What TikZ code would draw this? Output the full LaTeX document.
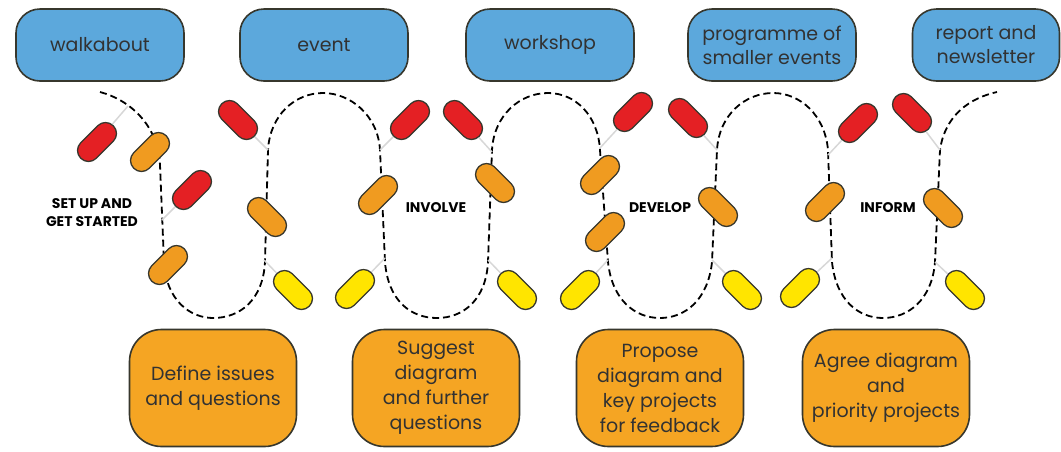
\documentclass[tikz,border=0pt]{standalone}
\usepackage{fontspec}
\setmainfont{Poppins}
\usepackage{xcolor}
\usepackage{tikz}
\usetikzlibrary{shapes,arrows}

\definecolor{stageblue}{RGB}{92,168,220}
\definecolor{taskorange}{RGB}{245,165,35}
\definecolor{pillred}{RGB}{228,32,36}
\definecolor{pillorange}{RGB}{240,155,32}
\definecolor{pillyellow}{RGB}{255,229,0}
\definecolor{rim}{RGB}{55,55,45}
\definecolor{ink}{RGB}{50,50,50}
\definecolor{stalk}{RGB}{215,215,215}

\tikzset{
	stage/.style={draw=rim,line width=1.6pt,fill=stageblue,rounded corners=24pt,
		minimum width=168pt,minimum height=72pt,inner sep=2pt,align=center,text=ink,
		font=\fontsize{19}{24}\selectfont},
	task/.style={draw=rim,line width=1.6pt,fill=taskorange,rounded corners=32pt,
		minimum width=167pt,minimum height=117pt,inner sep=2pt,align=center,text=ink,
		font=\fontsize{19}{25}\selectfont},
	pill/.style={draw=rim,line width=1.3pt,rounded corners=11pt,
		minimum width=46pt,minimum height=22pt,inner sep=0pt},
	redpill/.style={pill,fill=pillred},
	orangepill/.style={pill,fill=pillorange},
	yellowpill/.style={pill,fill=pillyellow},
	phase/.style={align=center,text=black,font=\bfseries\fontsize{14}{18}\selectfont},
	loopline/.style={line width=1.8pt,dash pattern=on 7pt off 4pt},
	stalkline/.style={draw=stalk,line width=1.5pt}
}

\begin{document}
\begin{tikzpicture}[x=1pt,y=-1pt]
		\useasboundingbox (0,0) rectangle (1061,451);
		% the winding path
		\draw[loopline] (100,92) .. controls (130,100) and (158,125) .. (160,165) -- (164,262)
		.. controls (166,300) and (190,318) .. (213,318) .. controls (240,318) and (263,300) .. (265,262)
		-- (268,150) .. controls (270,115) and (295,93) .. (323,93) .. controls (350,93) and (378,115) .. (380,150)
		-- (385,262) .. controls (388,300) and (410,318) .. (437,318) .. controls (463,318) and (486,300) .. (488,262)
		-- (492,150) .. controls (494,115) and (520,93) .. (548,93) .. controls (575,93) and (598,115) .. (600,150)
		-- (608,262) .. controls (612,300) and (635,318) .. (660,318) .. controls (685,318) and (708,300) .. (712,262)
		-- (717,150) .. controls (719,115) and (745,93) .. (773,93) .. controls (800,93) and (825,115) .. (828,150)
		-- (832,262) .. controls (836,300) and (858,318) .. (883,318) .. controls (908,318) and (932,300) .. (935,262)
		-- (940,150) .. controls (945,115) and (970,98) .. (997,92);
		%
		% where the pills hang on the path
		\coordinate (c1) at (128,106);
		\coordinate (c3) at (162,220);
		\coordinate (c5) at (268,150);
		\coordinate (c7) at (264,260);
		\coordinate (c8) at (385,258);
		\coordinate (c9) at (380,150);
		\coordinate (c11) at (492,152);
		\coordinate (c13) at (488,260);
		\coordinate (c14) at (600,148);
		\coordinate (c17) at (608,260);
		\coordinate (c18) at (717,150);
		\coordinate (c20) at (712,260);
		\coordinate (c21) at (828,155);
		\coordinate (c23) at (832,258);
		\coordinate (c24) at (940,150);
		\coordinate (c26) at (935,262);
		%
		% stages
		\node[stage] (walk) at (100,45) {walkabout};
		\node[stage] (event) at (324,45) {event};
		\node[stage] (shop) at (550,45) {workshop};
		\node[stage] (prog) at (772,45) {programme of\\smaller events};
		\node[stage,minimum width=147pt] (news) at (986,45) {report and\\newsletter};
		%
		% tasks
		\node[task] (define) at (213,388) {Define issues\\and questions};
		\node[task] (suggest) at (436,388) {Suggest\\diagram\\and further\\questions};
		\node[task] (propose) at (660,388) {Propose\\diagram and\\key projects\\for feedback};
		\node[task] (agree) at (886,388) {Agree diagram\\and\\priority projects};
		%
		% phases
		\node[phase] (setup) at (92,213) {SET UP AND\\GET STARTED};
		\node[phase] (involve) at (436,208) {INVOLVE};
		\node[phase] (develop) at (660,208) {DEVELOP};
		\node[phase] (inform) at (888,208) {INFORM};
		%
		% pills
		\node[redpill,rotate=45] (p1) at (97,142) {};
		\node[orangepill,rotate=45] (p2) at (150,152) {};
		\node[redpill,rotate=45] (p3) at (192,190) {};
		\node[orangepill,rotate=45] (p4) at (168,265) {};
		\node[redpill,rotate=-45] (p5) at (238,120) {};
		\node[orangepill,rotate=-45] (p6) at (267,217) {};
		\node[yellowpill,rotate=-45] (p7) at (293,290) {};
		\node[yellowpill,rotate=45] (p8) at (355,289) {};
		\node[redpill,rotate=45] (p9) at (410,120) {};
		\node[orangepill,rotate=45] (p10) at (378,195) {};
		\node[redpill,rotate=-45] (p11) at (463,120) {};
		\node[orangepill,rotate=-45] (p12) at (495,183) {};
		\node[yellowpill,rotate=-45] (p13) at (517,290) {};
		\node[redpill,rotate=45] (p14) at (633,112) {};
		\node[orangepill,rotate=45] (p15) at (600,175) {};
		\node[orangepill,rotate=45] (p16) at (605,232) {};
		\node[yellowpill,rotate=45] (p17) at (580,290) {};
		\node[redpill,rotate=-45] (p18) at (688,118) {};
		\node[orangepill,rotate=-45] (p19) at (718,207) {};
		\node[yellowpill,rotate=-45] (p20) at (742,290) {};
		\node[redpill,rotate=45] (p21) at (858,123) {};
		\node[orangepill,rotate=45] (p22) at (825,202) {};
		\node[yellowpill,rotate=45] (p23) at (800,288) {};
		\node[redpill,rotate=-45] (p24) at (912,113) {};
		\node[orangepill,rotate=-45] (p25) at (943,208) {};
		\node[yellowpill,rotate=-45] (p26) at (965,290) {};
		%
		\path[stalkline]
		% red stalks
		(p1) edge (c1)
		(p3) edge (c3)
		(p5) edge (c5)
		(p9) edge (c9)
		(p11) edge (c11)
		(p14) edge (c14)
		(p18) edge (c18)
		(p21) edge (c21)
		(p24) edge (c24)
		% yellow stalks
		(p7) edge (c7)
		(p8) edge (c8)
		(p13) edge (c13)
		(p17) edge (c17)
		(p20) edge (c20)
		(p23) edge (c23)
		(p26) edge (c26);
\end{tikzpicture}
\end{document}
